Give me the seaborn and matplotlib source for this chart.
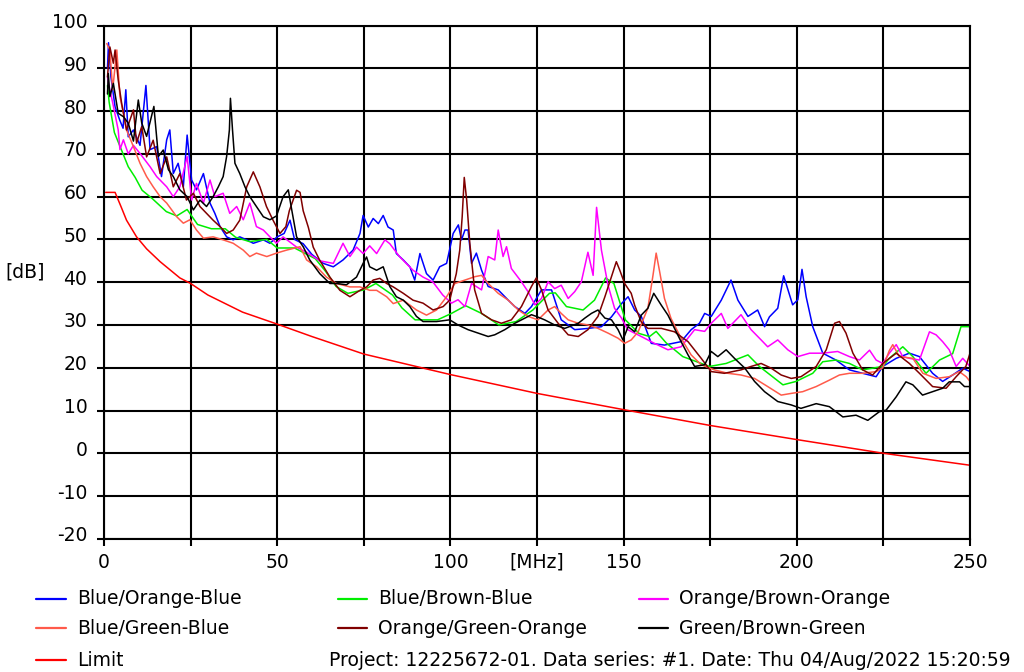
import matplotlib
matplotlib.use("Agg")
import matplotlib.pyplot as plt
import matplotlib.transforms as mtransforms
from matplotlib.lines import Line2D
import seaborn as sns

# ---- data (MHz, dB) ----
blue_f = [1, 1.3, 2, 3.2, 4.5, 5.5, 6.3, 7, 8.5, 10.4,
          12.1, 13.3, 15.2, 16.6, 18.1, 19, 20, 21.4, 22.9, 24,
          25.3, 26.7, 28.7, 30.6, 32, 33.5, 35.4, 37.3, 39.2, 41.2,
          43.1, 46, 47.9, 50, 52, 53.7, 55, 57.5, 60, 63.3,
          66.2, 69, 71.9, 73.9, 74.8, 76.3, 77.7, 79.2, 80.6, 82,
          83.5, 84.4, 86.4, 88.3, 89.7, 91.2, 93.1, 95, 96.9, 98.9,
          100.8, 102.3, 103.2, 104.2, 105.1, 106.1, 107.5, 109, 110.9, 113.8,
          116.7, 118.6, 121.5, 123.4, 126.3, 129.2, 132, 135.9, 139.8, 143.6,
          146.5, 149.4, 151.3, 153.2, 155.1, 158, 161.8, 166.6, 169.5, 171.9,
          173.4, 175.3, 178.2, 181, 183, 185.9, 188.7, 190.7, 192.1, 194.5,
          196.2, 198.8, 200.3, 201.5, 202.7, 204.6, 207.5, 211.3, 215.2, 219,
          222.9, 224.8, 228.7, 232.5, 235.4, 239.2, 242.1, 245, 247.9, 250]
blue_db = [90, 96, 88, 81, 78, 76, 85, 74, 75.6, 72,
           86, 71, 71.7, 64.7, 73.3, 75.6, 65.4, 67.8, 62.3, 74.4,
           63.9, 61.6, 65.4, 58.5, 56.1, 53, 50.6, 49.9, 50.6, 49.9,
           49.1, 49.9, 49.1, 50.6, 51.4, 54.5, 50, 49, 46.5, 44.4,
           43.6, 45.2, 47.5, 51.4, 55.6, 52.9, 54.9, 53.7, 55.6, 52.9,
           52.2, 46.7, 45.2, 43.6, 40.5, 46.7, 42, 40.5, 43.6, 44.4,
           51.4, 53.4, 49.9, 52.2, 52.2, 44.4, 46.8, 42.8, 39, 38.2,
           35.8, 34.3, 32.7, 34.3, 38.2, 38.2, 31.2, 28.9, 29.2, 29.6,
           31.9, 35, 36.6, 33.5, 32, 25.7, 25.3, 26.1, 28.9, 30.4,
           32.7, 32, 35.8, 40.5, 35.8, 32, 33.5, 29.6, 31.9, 33.9,
           41.5, 34.7, 35.9, 43, 36.6, 29.6, 23.4, 21.8, 19.5, 18.7,
           17.9, 20.3, 22.2, 23.4, 22.6, 18.7, 16.8, 18.3, 19.9, 19.1]

green_f = [1, 1.5, 3, 5, 7, 9, 11, 14, 18, 21,
           24, 27, 31, 35, 38, 42, 47, 50, 55, 61,
           64, 67, 70.4, 75, 78.5, 83.3, 86, 89.8, 96.3, 100.3,
           104.4, 109, 114, 119, 123.8, 128.6, 130.3, 133.5, 138.3, 141.6,
           144.8, 147.2, 150.5, 154.5, 157.5, 159.4, 162.3, 167.1, 174.8, 179.6,
           185.9, 189.2, 196, 199.8, 204.6, 207.5, 211.3, 215.2, 219, 224.8,
           226.7, 230.6, 233.5, 237.3, 241.2, 245, 247.4, 250]
green_db = [86, 82, 75, 71, 67, 64.5, 61.5, 59.5, 56.5, 55.5,
            57, 53.5, 52.5, 52.5, 50.5, 49.5, 50, 48, 48, 45.5,
            42.5, 39, 37.4, 38.2, 39.7, 37, 34, 31.2, 31.2, 32.7,
            34.5, 32.7, 30, 30.8, 33.5, 37.4, 37.5, 34.3, 33.5, 35.8,
            41, 39.7, 31.2, 28, 27.3, 28.5, 25.8, 22.6, 20.3, 21,
            23, 20.3, 16, 16.8, 18.7, 21.4, 21.8, 21, 19.5, 20.3,
            22.2, 24.9, 22.6, 18.7, 21.8, 23.3, 29.6, 29.6]

magenta_f = [1, 1.5, 2.5, 4.1, 4.6, 5.6, 7, 8.5, 10.4, 13.3,
             15.2, 18.1, 20, 21.9, 24, 25.3, 26.7, 28.7, 30.6, 32,
             34.4, 36.3, 38.3, 40.2, 42.1, 44, 46, 47.9, 49.8, 51.7,
             55.6, 58.5, 62.3, 66.2, 69, 71, 72.9, 74.8, 76.7, 78.7,
             81.1, 82.5, 85.3, 89.2, 92.1, 95, 97.8, 100.3, 102.2, 104.2,
             106.1, 109, 110.9, 112.8, 113.8, 115.2, 116.2, 117.6, 120.5, 122.4,
             124.4, 126.3, 128.2, 130.1, 132, 134, 135.9, 137.8, 139.7, 141.2,
             142.2, 143.6, 145.5, 147.4, 149.4, 151.2, 155.1, 158.9, 162.8, 166.6,
             170.5, 173.4, 175.3, 178.2, 180.1, 183.9, 186.8, 189.7, 191.6, 194.5,
             197.4, 200.3, 203.7, 207.5, 211.8, 215.2, 218.1, 221, 222.9, 224.8,
             226.7, 228.7, 230.6, 232.5, 235.4, 238.3, 240.2, 242.1, 244, 246,
             247.9, 250]
magenta_db = [88, 85.7, 82, 75.6, 71, 73.3, 70, 72, 70.1, 67,
              64.7, 62.3, 60, 62.3, 69.4, 59.2, 63.1, 58.5, 63.9, 60,
              60.8, 56.1, 57.7, 54.6, 58.5, 53, 52.2, 50.6, 49.1, 50.6,
              48.2, 47, 45, 44.4, 49.1, 46, 48.2, 46.7, 48.5, 46.7,
              49.9, 49, 46, 42.8, 41.2, 40, 37, 35.1, 35.9, 34.3,
              39.7, 38.2, 46, 45.2, 52.2, 46, 48.3, 43.2, 40.1, 37.8,
              34.7, 36.2, 40.1, 38.5, 39.3, 36.2, 37.8, 40.1, 47, 41.6,
              57.5, 47.5, 39.3, 33.9, 31.6, 28.9, 27.3, 25.7, 24.2, 24.9,
              28.9, 28.5, 30.4, 32.7, 29.2, 32.4, 28.9, 26.5, 24.9, 26.5,
              24.2, 22.6, 23.4, 23.4, 23.8, 22.6, 21.8, 24.1, 21.8, 21,
              23.4, 25.4, 22.6, 22.2, 21.8, 28.4, 27.7, 26.1, 24.2, 20.3,
              22.2, 20.3]

salmon_f = [0.8, 1.7, 2.5, 3.7, 4.6, 5.6, 6.5, 8.5, 10.4, 12.3,
            14.2, 16.2, 18.1, 21, 22.9, 24.8, 26.7, 28.7, 31.5, 34.4,
            37.3, 40.2, 42.1, 44, 47, 49.8, 52.7, 56.6, 58.5, 61.4,
            64.2, 67.1, 71, 73.9, 76.7, 78.7, 81.6, 83.5, 86.4, 90.2,
            93.1, 96, 98.9, 101.3, 104.2, 107.1, 109, 110.9, 113.8, 116.7,
            119.6, 122.4, 125.3, 128.2, 130.1, 132, 134, 136.9, 139.7, 142.6,
            145.5, 148.4, 150.3, 152.2, 154.2, 157, 158.5, 159.4, 160.4, 161.8,
            163.7, 166.6, 169.5, 172.4, 176.2, 180.1, 183.9, 187.8, 191.6, 195.5,
            198.4, 201.7, 205.6, 209.4, 212.3, 215.2, 219, 222.9, 224.8, 226.7,
            227.7, 229.6, 233.5, 236.4, 240.2, 244, 246.9, 248.9, 250]
salmon_db = [95.8, 94.3, 85, 94.3, 83.4, 79.5, 75.6, 71.7, 67.8, 64.7,
             62.3, 60, 58.5, 55.3, 53.8, 54.6, 52.2, 50.3, 50.6, 49.9,
             49.1, 47.5, 46, 46.8, 46, 46.8, 47.5, 48.3, 45.2, 43.6,
             41.2, 39.7, 38.9, 38.9, 38.1, 38.1, 36.6, 35, 35.8, 33.5,
             32.3, 33.5, 36.6, 39.7, 40.5, 41.3, 41.6, 39.7, 37.4, 35.8,
             33.5, 32, 31.2, 33.5, 34.3, 32.7, 31.2, 30.4, 30, 29.2,
             28.1, 26.9, 25.7, 26.5, 28.4, 33.9, 41.7, 46.8, 42.5, 36.2,
             31.5, 26.9, 23, 20.7, 19.5, 18.7, 18.3, 17.5, 15.6, 13.6,
             14, 14.4, 15.6, 17.1, 18.3, 18.7, 18.7, 19.1, 20, 24,
             25.4, 22.6, 22.2, 18.7, 17.5, 17.9, 19.1, 17.9, 16.8]

brown_f = [1, 1.7, 2.7, 3.2, 4.1, 5.1, 6.5, 8.5, 9.4, 10.9,
           12.3, 14.2, 16.2, 18.1, 20, 21.9, 23.8, 25.8, 27.7, 29.6,
           31.5, 33.5, 35.4, 37.3, 39.2, 41.2, 43.1, 45, 46.9, 48.8,
           50.8, 52.5, 53.5, 55.6, 56.6, 57.5, 59, 60.4, 62.3, 65.2,
           68.1, 71, 73.9, 75.8, 77.7, 79.6, 81.6, 83.5, 86.4, 89.2,
           92.1, 95, 97.9, 99.8, 101.7, 102.7, 103.4, 104, 104.7, 105.6,
           107, 109, 111.9, 114.7, 117.6, 120.5, 123.4, 124.8, 126.3, 128.2,
           131.1, 134, 136.9, 139.7, 142.6, 144.6, 146.5, 147.9, 148.9, 150.3,
           152.2, 153.2, 155.1, 157, 160.9, 164.7, 168.6, 172.4, 175.3, 179.1,
           183.9, 186.8, 189.7, 192.6, 195.5, 198.4, 201.2, 205.6, 208.5, 210.9,
           212.3, 214.2, 216.2, 219, 221.9, 224.8, 228.7, 232.5, 235.4, 239.2,
           243.1, 246, 248.8, 250]
brown_db = [88, 95, 91.2, 94.3, 87.3, 81.8, 75.6, 80.3, 72.5, 76.4,
            69.3, 73.2, 65.4, 69.3, 62.3, 65.4, 59.2, 60.8, 57.7, 56.1,
            54.5, 53, 51.4, 52.2, 54.5, 62.3, 65.8, 62.3, 57.7, 54.5,
            51.4, 53, 56.7, 61.5, 61, 56.7, 52.8, 48.2, 45.1, 41.2,
            38.1, 36.6, 38.1, 38.9, 40.5, 40.9, 39.7, 38.9, 37.4, 35.8,
            35.1, 33.5, 34.3, 35.8, 42, 47.5, 55.3, 64.5, 59.2, 49.1,
            38.2, 32.7, 31.2, 30.4, 31.2, 34.3, 39, 41, 38.2, 33.5,
            30.4, 27.7, 27.3, 28.9, 32, 36.6, 41.3, 44.8, 42.8, 39.7,
            37.4, 34.6, 30.7, 29.2, 29.2, 28.4, 26.1, 22.2, 19.1, 18.7,
            19.5, 20.3, 21, 19.9, 18.3, 17.5, 17.9, 20.3, 24.2, 30.4,
            30.8, 28.1, 23.4, 19.5, 18.3, 21, 23.4, 21, 18.7, 15.6,
            15.2, 17.9, 20.3, 23.4]

black_f = [1, 1.25, 1.7, 2.7, 4.1, 5.6, 7, 8.5, 9.9, 10.9,
           12.3, 14.4, 15.7, 17.1, 18.6, 20, 21.9, 24, 25.8, 27.7,
           29.6, 31.5, 33, 34.4, 35.4, 36.2, 36.5, 37.1, 37.8, 39.2,
           40.7, 42.1, 44, 46, 47.9, 49.8, 51.7, 53.2, 54.2, 55.6,
           57.5, 59.4, 62.3, 65.2, 67.1, 70, 72.9, 74.8, 75.8, 76.7,
           78.7, 80.6, 82.5, 84.4, 86.4, 88.3, 90.2, 92.1, 96, 99.8,
           102.2, 105.1, 108, 110.9, 112.8, 115.7, 118.6, 121.5, 123.4, 124.8,
           127.2, 130.1, 133, 136.9, 138.8, 140.7, 142.6, 144.6, 146.5, 148.4,
           149.8, 151.3, 153.2, 155.1, 157, 158.7, 160.9, 162.8, 164.7, 166.6,
           168.6, 170.5, 173.4, 175.3, 177.2, 179.6, 182, 185, 187.8, 190.7,
           194.5, 198.4, 201.2, 205.6, 209.4, 213.3, 217.1, 220.5, 223.8, 225.8,
           228.7, 231.5, 233.5, 236.3, 239.2, 242.1, 244, 247, 248.4, 250]
black_db = [84, 88.8, 83.4, 86.5, 79.5, 78.7, 77.2, 73, 82.6, 77.2,
            74.1, 81.1, 69.4, 70.9, 66.3, 64.7, 61.6, 60, 56.9, 59.2,
            57.7, 60, 62.3, 64.7, 69.4, 75.6, 83, 75.6, 67.8, 65.4,
            62.3, 60, 57.7, 55.3, 54.6, 55.5, 60, 61.6, 56.9, 50.6,
            48.3, 45.2, 42, 39.7, 39.7, 39.4, 41.2, 44.4, 45.9, 43.6,
            42.8, 43.6, 39, 36.6, 35.8, 34.3, 32, 30.8, 30.8, 31.2,
            30, 28.9, 28.1, 27.3, 27.7, 28.9, 30.4, 31.6, 32.4, 32,
            31.2, 30, 29.2, 30.4, 31.6, 32.7, 33.5, 31.6, 31.2, 28.9,
            26.5, 29.6, 28.4, 32.3, 33.9, 37.4, 34.6, 32.3, 29.2, 26.1,
            23, 20.3, 20.7, 23.8, 22.6, 24.2, 22.2, 19.9, 16.8, 14.4,
            12.1, 11.3, 10.5, 11.6, 10.9, 8.5, 8.9, 7.7, 9.7, 10.1,
            13.2, 16.7, 16, 13.6, 14.4, 15.2, 16.7, 16.7, 15.6, 15.6]

limit_f = [0.5, 3.2, 5, 6.5, 9.4, 12.3, 16.2, 21.9, 25, 30,
           40, 50, 60, 75, 100, 125, 150, 175, 200, 225, 250]
limit_db = [61, 61, 57.5, 54.5, 50.6, 47.8, 44.8, 41, 39.7, 37,
            33, 30.2, 27.3, 23.2, 18.4, 14, 10.2, 6.5, 3.2, 0, -2.8]

x_ticks = [0, 25, 50, 75, 100, 125, 150, 175, 200, 225, 250]
x_tick_labels = ["0", "", "50", "", "100", "[MHz]", "150", "", "200", "", "250"]
y_ticks = list(range(-20, 101, 10))

series = [
    ("Blue/Orange-Blue", blue_f, blue_db, "#0000ff"),
    ("Blue/Brown-Blue", green_f, green_db, "#00ee00"),
    ("Orange/Brown-Orange", magenta_f, magenta_db, "#ff00ff"),
    ("Blue/Green-Blue", salmon_f, salmon_db, "#ff5a4a"),
    ("Orange/Green-Orange", brown_f, brown_db, "#800000"),
    ("Green/Brown-Green", black_f, black_db, "#000000"),
    ("Limit", limit_f, limit_db, "#ff0000"),
]

sns.set_theme(style="white")
plt.rcParams["font.family"] = ["DejaVu Sans"]
plt.rcParams["axes.unicode_minus"] = False
plt.rcParams["text.color"] = "black"
FS = 13.5

W, H = 1024, 672
fig = plt.figure(figsize=(W / 100, H / 100), dpi=100)
ax = fig.add_axes([104 / W, 1 - 538.8 / H, 866 / W, 513.2 / H])

for name, f, db, col in series:
    sns.lineplot(x=f, y=db, color=col, lw=1.1, ax=ax, sort=False,
                 estimator=None, legend=False)

ax.set_xlim(0, 250)
ax.set_ylim(-20, 100)
ax.set_xticks(x_ticks)
ax.set_xticklabels(x_tick_labels)
ax.set_yticks(y_ticks)
ax.set_xlabel("")
ax.set_ylabel("")
ax.grid(True, color="black", lw=1.5)
ax.set_axisbelow(True)
for s in ax.spines.values():
    s.set_color("black")
    s.set_linewidth(1.5)
ax.tick_params(axis="both", direction="out", length=5, width=1.5,
               color="black", labelsize=FS, labelcolor="black",
               left=True, bottom=True)
ax.tick_params(axis="y", pad=7)
ax.tick_params(axis="x", pad=5)

# y labels sit a little above their gridlines in the original
shift = mtransforms.ScaledTranslation(0, 5 / 100, fig.dpi_scale_trans)
for lab in ax.get_yticklabels():
    lab.set_transform(lab.get_transform() + shift)

fig.text(25 / W, 1 - 272 / H, "[dB]", fontsize=FS, ha="center", va="center",
         color="black")

# manual legend laid out like the original:
# row 1 blue, green, magenta; row 2 salmon, brown, black
cols = [(36, 66, 77), (338, 367, 378), (639, 668, 679)]
rows = [599, 628]
for i, (name, f, db, col) in enumerate(series[:6]):
    x0, x1, xt = cols[i % 3]
    r = rows[i // 3]
    fig.add_artist(Line2D([x0 / W, x1 / W], [1 - r / H] * 2,
                          transform=fig.transFigure, color=col, lw=1.6))
    fig.text(xt / W, 1 - r / H, name, fontsize=FS, va="center", color="black")

fig.add_artist(Line2D([36 / W, 66 / W], [1 - 660 / H] * 2,
                      transform=fig.transFigure, color="#ff0000", lw=1.6))
fig.text(77 / W, 1 - 660 / H, "Limit", fontsize=FS, va="center", color="black")
fig.text(329 / W, 1 - 660 / H,
         "Project: 12225672-01. Data series: #1. Date: Thu 04/Aug/2022 15:20:59",
         fontsize=13.5, va="center", color="black")

fig.savefig("out.png", dpi=100)
